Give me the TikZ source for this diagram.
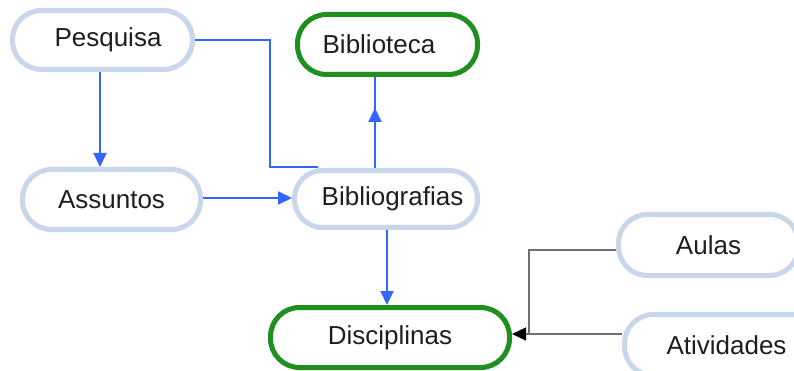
\documentclass[tikz,border=0pt]{standalone}
\usepackage{fontspec}
\setmainfont{Liberation Sans}
\usetikzlibrary{arrows.meta,decorations.markings}
\definecolor{boxblue}{HTML}{C8D7EA}
\definecolor{boxgreen}{HTML}{1F8F1F}
\definecolor{arrowblue}{HTML}{3366FF}
\definecolor{linegray}{HTML}{707070}
\definecolor{textc}{HTML}{1E1E1E}
\newcommand{\dgfont}{\fontsize{26}{31}\selectfont}
\tikzset{
  bbox/.style={draw=boxblue, line width=5pt, rounded corners=29pt, minimum height=60pt,
    inner sep=0pt, fill=white, font=\dgfont, text=textc},
  gbox/.style={bbox, draw=boxgreen},
  bl/.style={draw=arrowblue, line width=2pt},
  ba/.style={bl, -{Triangle[length=14pt,width=13pt]}},
  gl/.style={draw=linegray, line width=1.3pt},
  ga/.style={gl, -{Triangle[length=14pt,width=13pt,color=black]}},
  midup/.style={postaction={decorate}, decoration={markings,
    mark=at position 0.66 with {\arrow[arrowblue]{Triangle[length=14pt,width=13pt]}}}}
}
\begin{document}
\begin{tikzpicture}[x=1pt,y=-1pt]
\useasboundingbox (0,0) rectangle (794,371);
\fill[white] (0,0) rectangle (794,371);
\clip (0,0) rectangle (794,371);

\node[bbox, minimum width=180pt, minimum height=59pt] (Pesquisa) at (102.5,40) {\hspace*{11pt}Pesquisa};
\node[gbox, minimum width=180pt] (Biblioteca) at (387.5,44.5) {Biblioteca\hspace*{17pt}};
\node[bbox, minimum width=178pt] (Assuntos) at (111.5,199.5) {Assuntos};
\node[bbox, minimum width=183pt, minimum height=57pt, rounded corners=28pt] (Bibliografias) at (386,199) {\hspace*{13pt}Bibliografias};
\node[gbox, minimum width=239pt] (Disciplinas) at (390,337.5) {Disciplinas};
\node[bbox, minimum width=180pt, minimum height=61pt] (Aulas) at (708.5,245) {Aulas};
\node[bbox, minimum width=204pt, minimum height=61pt] (Atividades) at (726.5,345) {Atividades};

\coordinate (k1) at (270,167);
\coordinate (k2) at (318,167);
\coordinate (k3) at (529,334);
\coordinate (k4) at (375,0);
\coordinate (k5) at (0,198);
\coordinate (k6) at (387,0);

\draw[bl] (Pesquisa.east) -| (k1) -- (k2);
\draw[ba] ([xshift=-2.5pt]Pesquisa.south) -- ([xshift=-2.5pt]Pesquisa.south |- Assuntos.north);
\draw[bl, midup] (Bibliografias.north -| k4) -- (Biblioteca.south -| k4);
\draw[ba] (Assuntos.east |- k5) -- (Bibliografias.west |- k5);
\draw[ba] (Bibliografias.south -| k6) -- (Disciplinas.north -| k6);
\draw[gl] ([yshift=-5pt]Aulas.west) -| (k3);
\draw[ga] (Atividades.west |- k3) -- (Disciplinas.east |- k3);
\end{tikzpicture}
\end{document}
